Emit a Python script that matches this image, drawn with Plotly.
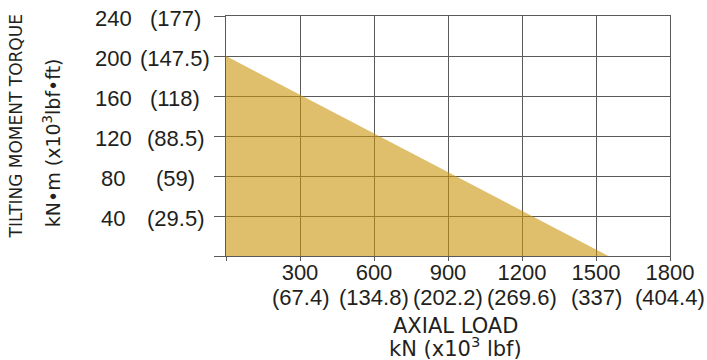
import plotly.graph_objects as go

# Data
axial_load_kN = [0, 1550]
tilting_moment_kNm = [200, 0]

x_tick_vals = [0, 300, 600, 900, 1200, 1500, 1800]
x_tick_kN = ["", "300", "600", "900", "1200", "1500", "1800"]
x_tick_klbf = ["", "(67.4)", "(134.8)", "(202.2)", "(269.6)", "(337)", "(404.4)"]

y_tick_vals = [0, 40, 80, 120, 160, 200, 240]
y_tick_kNm = ["", "40", "80", "120", "160", "200", "240"]
y_tick_klbfft = ["", "(29.5)", "(59)", "(88.5)", "(118)", "(147.5)", "(177)"]

TXT = "#231f20"
GRID = "#5a5a5a"
TICKFONT = dict(family="Liberation Sans, Arial, sans-serif", size=22, color=TXT)
TITLEFONT = "DejaVu Sans, Verdana, sans-serif"

fig = go.Figure()
fig.add_trace(go.Scatter(
    x=axial_load_kN, y=tilting_moment_kNm,
    mode="lines", line=dict(width=0),
    fill="tozeroy", fillcolor="rgba(202,147,10,0.6)",
    hoverinfo="skip", showlegend=False,
))

fig.update_xaxes(
    range=[0, 1800], tickvals=x_tick_vals, ticktext=x_tick_kN,
    showgrid=True, gridcolor=GRID, gridwidth=1,
    showline=True, linecolor=GRID, linewidth=1, mirror=True,
    ticks="outside", ticklen=4, tickcolor=GRID, ticklabelstandoff=-7,
    zeroline=False, tickfont=TICKFONT, fixedrange=True,
)
fig.update_yaxes(
    range=[0, 240], tickvals=y_tick_vals, showticklabels=False,
    showgrid=True, gridcolor=GRID, gridwidth=1,
    showline=True, linecolor=GRID, linewidth=1, mirror=True,
    ticks="outside", ticklen=11, tickcolor=GRID,
    zeroline=False, fixedrange=True,
)

annotations = []
for v, a, b in zip(y_tick_vals, y_tick_kNm, y_tick_klbfft):
    if not a:
        continue
    annotations.append(dict(x=0, xref="paper", y=v, yref="y", text=a, showarrow=False,
                            xanchor="center", yanchor="middle", xshift=-113, yshift=-2,
                            font=TICKFONT))
    annotations.append(dict(x=0, xref="paper", y=v, yref="y", text=b, showarrow=False,
                            xanchor="center", yanchor="middle", xshift=-51, yshift=-2,
                            font=TICKFONT))

for v, b in zip(x_tick_vals, x_tick_klbf):
    if not b:
        continue
    annotations.append(dict(x=v, xref="x", y=0, yref="paper", text=b, showarrow=False,
                            xanchor="center", yanchor="middle", yshift=-41,
                            font=TICKFONT))

annotations += [
    dict(x=0, xref="paper", y=0.54, yref="paper", text="TILTING MOMENT TORQUE",
         textangle=-90, showarrow=False, xanchor="center", yanchor="middle", xshift=-210,
         font=dict(family=TITLEFONT, size=17, color=TXT)),
    dict(x=0, xref="paper", y=0.47, yref="paper", text="kN•m (x10<sup>3</sup>lbf•ft)",
         textangle=-90, showarrow=False, xanchor="center", yanchor="middle", xshift=-174,
         font=dict(family=TITLEFONT, size=19, color=TXT)),
    dict(x=0.518, xref="paper", y=0, yref="paper", text="AXIAL LOAD",
         showarrow=False, xanchor="center", yanchor="middle", yshift=-70,
         font=dict(family=TITLEFONT, size=21, color=TXT)),
    dict(x=0.518, xref="paper", y=0, yref="paper", text="kN (x10<sup>3</sup> lbf)",
         showarrow=False, xanchor="center", yanchor="middle", yshift=-91,
         font=dict(family=TITLEFONT, size=21, color=TXT)),
]

fig.update_layout(
    width=707, height=360,
    margin=dict(l=226, r=37, t=16, b=104, pad=0),
    paper_bgcolor="white", plot_bgcolor="white",
    annotations=annotations, showlegend=False,
)

fig.write_html("out.html", config={"displayModeBar": False},
               post_script="document.body.style.margin='0';")
